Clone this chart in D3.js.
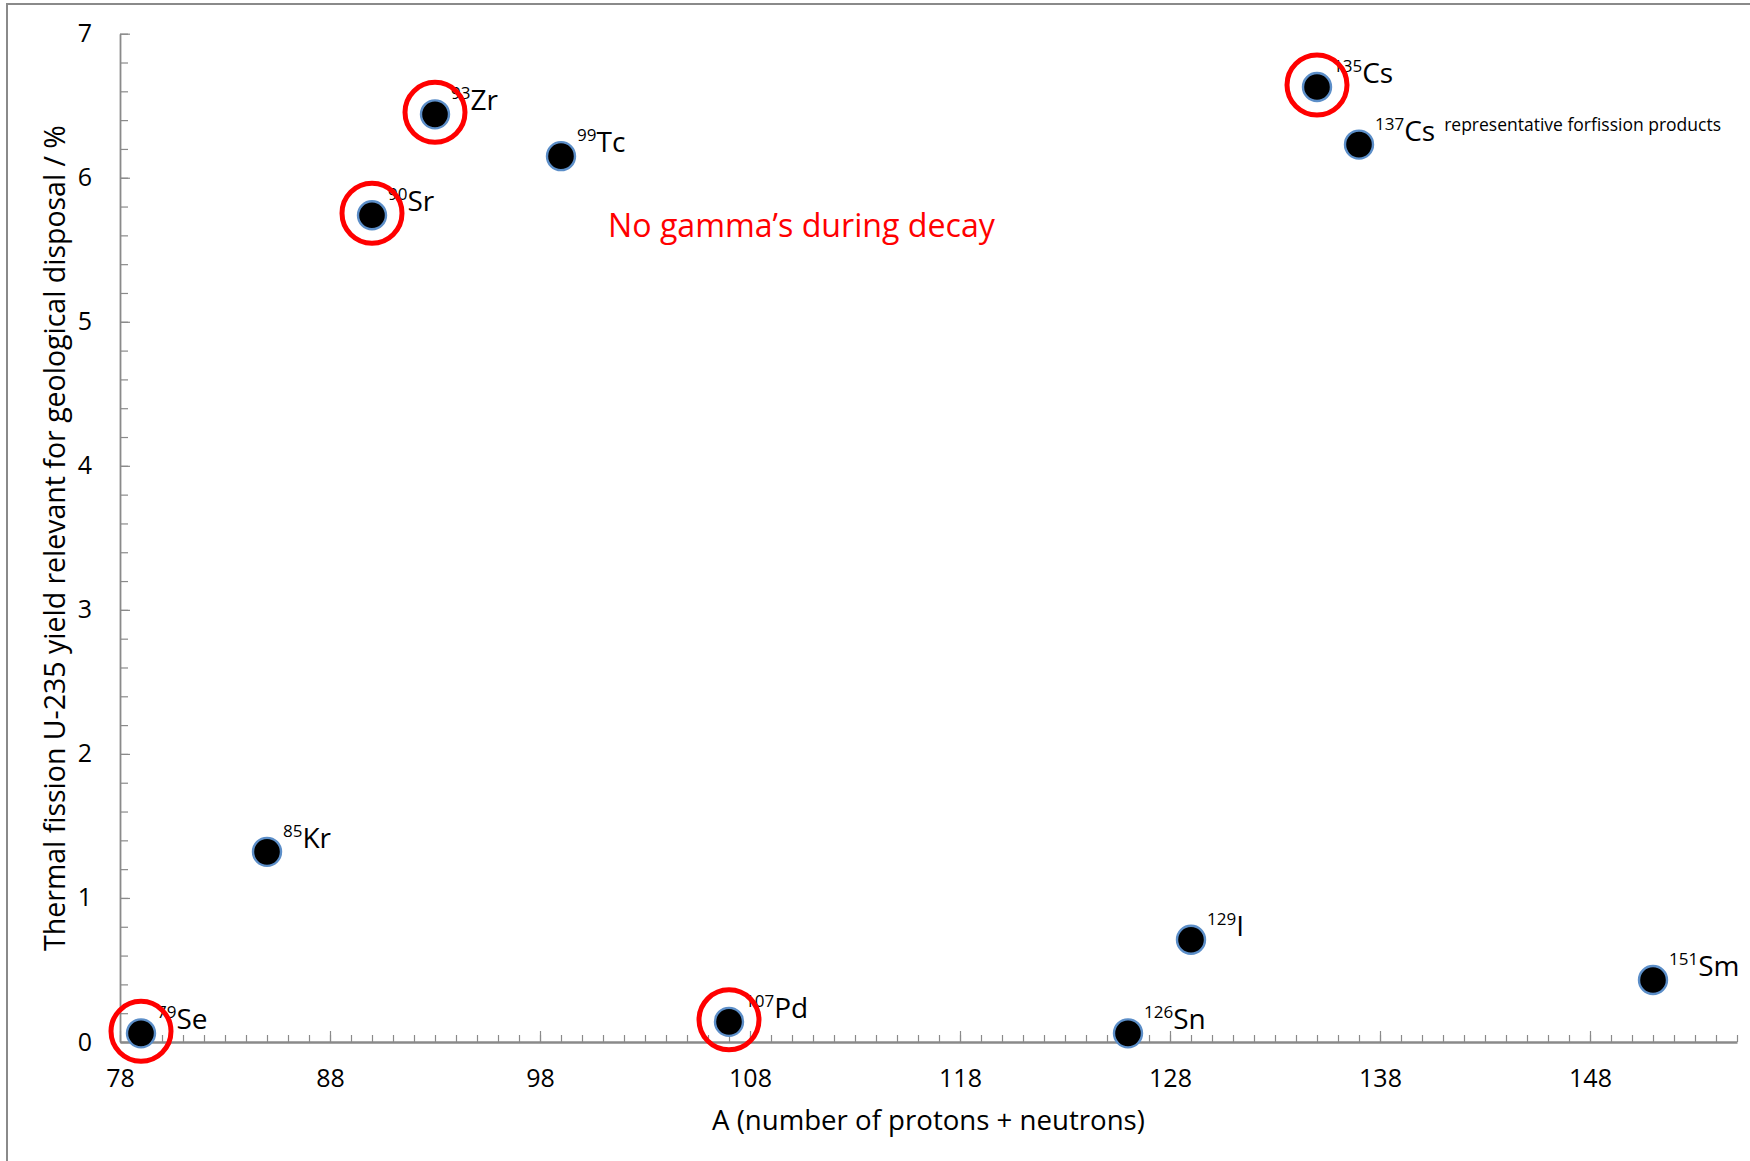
<!DOCTYPE html>
<html>
<head>
<meta charset="utf-8">
<script src="https://cdn.jsdelivr.net/npm/d3@7"></script>
<style>
  html, body { margin: 0; padding: 0; background: #ffffff; }
  svg { display: block; }
  text { font-family: "Open Sans", "Noto Sans", sans-serif; fill: #000; }
</style>
</head>
<body>
<svg id="chart" width="1750" height="1161"></svg>
<script>
// ---------- data ----------
const massNumbers = [79, 85, 90, 93, 99, 107, 126, 129, 135, 137, 151];
const elements    = ["Se", "Kr", "Sr", "Zr", "Tc", "Pd", "Sn", "I", "Cs", "Cs", "Sm"];
const yields      = [0.06, 1.32, 5.74, 6.44, 6.15, 0.14, 0.06, 0.71, 6.63, 6.23, 0.43];
const noGamma     = [true, false, true, true, false, true, false, false, true, false, false];
const notes       = ["", "", "", "", "", "", "", "", "", "representative forfission products", ""];
const xMajorTicks = [78, 88, 98, 108, 118, 128, 138, 148];
const yMajorTicks = [0, 1, 2, 3, 4, 5, 6, 7];
const xTitle = "A (number of protons + neutrons)";
const yTitle = "Thermal fission U-235 yield relevant for geological disposal / %";
const annotation = "No gamma\u2019s during decay";

// ---------- setup ----------
const svg = d3.select("#chart");
const W = 1750, H = 1161;
const axisGray = "#8a8a8a";

const x = d3.scaleLinear().domain([78, 155]).range([120, 1737]);
const y = d3.scaleLinear().domain([0, 7]).range([1042, 33.7]);

function fitWidth(sel, target) {
  const base = 100;
  sel.attr("font-size", base);
  const len = sel.node().getComputedTextLength();
  sel.attr("font-size", base * target / len);
}

// frame (top and left edges visible)
svg.append("rect")
  .attr("x", 7).attr("y", 4)
  .attr("width", W + 20).attr("height", H + 20)
  .attr("fill", "none").attr("stroke", axisGray).attr("stroke-width", 2);

// ---------- x axis ----------
const gx = svg.append("g").attr("transform", `translate(0,${y(0)})`);
gx.append("g")
  .call(d3.axisBottom(x).tickValues(d3.range(78, 156, 1)).tickSize(-7).tickSizeOuter(0).tickFormat(""))
  .call(g => g.select(".domain").remove())
  .call(g => g.selectAll("line").attr("stroke", axisGray).attr("stroke-width", 1.2));
gx.append("g")
  .call(d3.axisBottom(x).tickValues(xMajorTicks).tickSize(-11).tickSizeOuter(0).tickPadding(27).tickFormat(d3.format("d")))
  .call(g => g.select(".domain").attr("stroke", axisGray).attr("stroke-width", 2.6))
  .call(g => g.selectAll("line").attr("stroke", axisGray).attr("stroke-width", 1.2))
  .call(g => g.selectAll("text").attr("font-size", 25).attr("font-family", "Open Sans").attr("fill", "#000"));

// ---------- y axis ----------
const gy = svg.append("g").attr("transform", `translate(${x(78)},0)`);
gy.append("g")
  .call(d3.axisLeft(y).tickValues(d3.range(0, 7.001, 0.2)).tickSize(-8).tickSizeOuter(0).tickFormat(""))
  .call(g => g.select(".domain").remove())
  .call(g => g.selectAll("line").attr("stroke", axisGray).attr("stroke-width", 1.2));
gy.append("g")
  .call(d3.axisLeft(y).tickValues(yMajorTicks).tickSize(-10).tickSizeOuter(0).tickPadding(28).tickFormat(d3.format("d")))
  .call(g => g.select(".domain").attr("stroke", axisGray).attr("stroke-width", 1.8))
  .call(g => g.selectAll("line").attr("stroke", axisGray).attr("stroke-width", 1.2))
  .call(g => g.selectAll("text").attr("font-size", 25).attr("font-family", "Open Sans").attr("fill", "#000"));

// ---------- axis titles ----------
const xt = svg.append("text")
  .attr("x", 712).attr("y", 1130)
  .text(xTitle);
fitWidth(xt, 433);

const yt = svg.append("text")
  .attr("text-anchor", "middle")
  .attr("transform", `translate(65,538) rotate(-90)`)
  .text(yTitle);
fitWidth(yt, 826);

// ---------- annotation ----------
const an = svg.append("text")
  .attr("x", 608).attr("y", 237)
  .attr("fill", "#ff0000").style("fill", "#ff0000")
  .text(annotation);
fitWidth(an, 387);

// ---------- points ----------
const data = massNumbers.map((a, i) => ({
  a, el: elements[i], v: yields[i], ring: noGamma[i], note: notes[i]
}));

const defs = svg.append("defs");
const blur = defs.append("filter").attr("id", "soft").attr("x", "-30%").attr("y", "-30%").attr("width", "160%").attr("height", "160%");
blur.append("feGaussianBlur").attr("stdDeviation", 0.7);

svg.append("g").selectAll("circle")
  .data(data).join("circle")
  .attr("cx", d => x(d.a)).attr("cy", d => y(d.v))
  .attr("r", 14)
  .attr("fill", "#000")
  .attr("stroke", "#5b8ec8").attr("stroke-width", 2.4)
  .attr("filter", "url(#soft)");

const labels = svg.append("g").selectAll("text")
  .data(data).join("text")
  .attr("x", d => x(d.a) + 16)
  .attr("y", d => y(d.v) - 4);
labels.append("tspan")
  .attr("font-size", 17).attr("dy", -11)
  .text(d => d.a);
labels.append("tspan")
  .attr("font-size", 28).attr("dy", 11)
  .text(d => d.el);
labels.filter(d => d.note).append("tspan")
  .attr("font-size", 17.5).attr("dx", 9).attr("dy", -10)
  .text(d => d.note);

// ---------- red rings (no gamma's) ----------
svg.append("g").selectAll("circle")
  .data(data.filter(d => d.ring)).join("circle")
  .attr("cx", d => x(d.a)).attr("cy", d => y(d.v) - 2)
  .attr("r", 30)
  .attr("fill", "none")
  .attr("stroke", "#ff0000").attr("stroke-width", 5);
</script>
</body>
</html>
